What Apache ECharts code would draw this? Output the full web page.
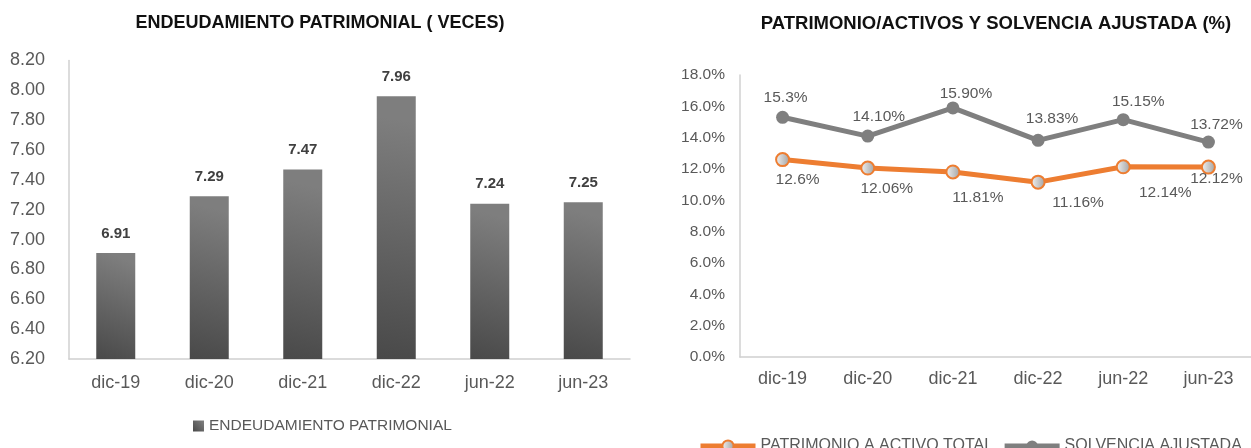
<!DOCTYPE html>
<html lang="es">
<head>
    <meta charset="UTF-8">
    <title>Endeudamiento y solvencia</title>
    <script src="https://cdn.jsdelivr.net/npm/echarts@6/dist/echarts.min.js"></script>
    <style>
        body { margin: 0; background: #fff; }
        #chart { width: 1251px; height: 448px; }
    </style>
</head>
<body>
    <div id="chart"></div>

    <script>
        // categorias (iguales en los dos graficos)
        var periodos = ['dic-19', 'dic-20', 'dic-21', 'dic-22', 'jun-22', 'jun-23'];

        // grafico izquierdo: endeudamiento patrimonial (veces)
        var endeudamiento = [6.91, 7.29, 7.47, 7.96, 7.24, 7.25];

        // grafico derecho: porcentajes
        var patrimonioActivo = [12.6, 12.06, 11.81, 11.16, 12.14, 12.12];
        var patrimonioTextos = ['12.6%', '12.06%', '11.81%', '11.16%', '12.14%', '12.12%'];
        var solvencia = [15.3, 14.10, 15.90, 13.83, 15.15, 13.72];
        var solvenciaTextos = ['15.3%', '14.10%', '15.90%', '13.83%', '15.15%', '13.72%'];

        // desplazamientos de etiquetas como en el original
        var offsetSolv = [[3, 0], [11, 0], [13, 5], [14, -2], [15, 2], [8, 2]];
        var offsetPat = [[15, 0], [19, 0], [25, 5], [40, 0], [42, 5], [8, -9]];

        var fuente = 'Arial, "Liberation Sans", sans-serif';
        var gris = '#595959';
        var naranja = '#ED7D31';
        var grisLinea = '#7F7F7F';

        var barraColor = new echarts.graphic.LinearGradient(0, 1, 1, 0.1, [
            { offset: 0, color: '#494949' },
            { offset: 1, color: '#7e7e7e' }
        ]);
        var markerColor = new echarts.graphic.LinearGradient(0, 0, 1, 0, [
            { offset: 0, color: '#f4f4f4' },
            { offset: 1, color: '#a0a0a0' }
        ]);

        function puntos(valores, textos, offsets) {
            return valores.map(function (v, i) {
                return { value: v, label: { formatter: textos[i], offset: offsets[i] } };
            });
        }

        var ejeLinea = { show: true, lineStyle: { color: '#d0d0d0', width: 1.5 } };

        var myChart = echarts.init(document.getElementById('chart'));
        var option = {
            animation: false,
            textStyle: { fontFamily: fuente },
            title: [
                {
                    text: 'ENDEUDAMIENTO PATRIMONIAL ( VECES)',
                    left: 315, top: 9, textAlign: 'center',
                    textStyle: { fontSize: 18, fontWeight: 'bold', color: '#111', fontFamily: fuente }
                },
                {
                    text: 'PATRIMONIO/ACTIVOS Y SOLVENCIA AJUSTADA (%)',
                    left: 991, top: 9, textAlign: 'center',
                    textStyle: { fontSize: 18.5, fontWeight: 'bold', color: '#111', fontFamily: fuente }
                }
            ],
            legend: [
                {
                    data: ['ENDEUDAMIENTO PATRIMONIAL'],
                    left: 193, top: 418, padding: 0,
                    icon: 'rect', itemWidth: 11, itemHeight: 11,
                    textStyle: { fontSize: 15.5, color: gris, fontFamily: fuente }
                },
                {
                    data: ['PATRIMONIO A ACTIVO TOTAL', 'SOLVENCIA AJUSTADA'],
                    left: 698, top: 438, padding: 0,
                    itemWidth: 55, itemHeight: 14, itemGap: 9,
                    lineStyle: { width: 5 },
                    textStyle: { fontSize: 16, color: gris, fontFamily: fuente }
                }
            ],
            grid: [
                { left: 69, width: 561, top: 60.5, bottom: 89 },
                { left: 740, width: 520, top: 75, bottom: 91 }
            ],
            xAxis: [
                {
                    gridIndex: 0, type: 'category', data: periodos,
                    axisLine: ejeLinea, axisTick: { show: false },
                    axisLabel: { fontSize: 18, color: gris, margin: 15 }
                },
                {
                    gridIndex: 1, type: 'category', data: periodos,
                    axisLine: ejeLinea, axisTick: { show: false },
                    axisLabel: { fontSize: 18, color: gris, margin: 13 }
                }
            ],
            yAxis: [
                {
                    gridIndex: 0, type: 'value', min: 6.2, max: 8.2, interval: 0.2,
                    axisLine: ejeLinea, axisTick: { show: false }, splitLine: { show: false },
                    axisLabel: { fontSize: 18, color: gris, margin: 24,
                        formatter: function (v) { return v.toFixed(2); } }
                },
                {
                    gridIndex: 1, type: 'value', min: 0, max: 18, interval: 2,
                    axisLine: ejeLinea, axisTick: { show: false }, splitLine: { show: false },
                    axisLabel: { fontSize: 15.5, color: gris, margin: 15,
                        formatter: function (v) { return v.toFixed(1) + '%'; } }
                }
            ],
            series: [
                {
                    name: 'ENDEUDAMIENTO PATRIMONIAL',
                    type: 'bar', xAxisIndex: 0, yAxisIndex: 0,
                    data: endeudamiento, barWidth: 39,
                    itemStyle: { color: barraColor },
                    label: {
                        show: true, position: 'top', distance: 12,
                        fontSize: 15, fontWeight: 'bold', color: '#404040',
                        formatter: function (p) { return p.value.toFixed(2); }
                    }
                },
                {
                    name: 'PATRIMONIO A ACTIVO TOTAL',
                    type: 'line', xAxisIndex: 1, yAxisIndex: 1,
                    data: puntos(patrimonioActivo, patrimonioTextos, offsetPat),
                    symbol: 'circle', symbolSize: 13,
                    lineStyle: { color: naranja, width: 5 },
                    itemStyle: { color: markerColor, borderColor: naranja, borderWidth: 2 },
                    label: { show: true, position: 'bottom', distance: 5, fontSize: 15.5, color: gris },
                    z: 3
                },
                {
                    name: 'SOLVENCIA AJUSTADA',
                    type: 'line', xAxisIndex: 1, yAxisIndex: 1,
                    data: puntos(solvencia, solvenciaTextos, offsetSolv),
                    symbol: 'circle', symbolSize: 13,
                    lineStyle: { color: grisLinea, width: 5 },
                    itemStyle: { color: grisLinea },
                    label: { show: true, position: 'top', distance: 5, fontSize: 15.5, color: gris },
                    z: 3
                }
            ]
        };
        myChart.setOption(option);
    </script>
</body>
</html>
